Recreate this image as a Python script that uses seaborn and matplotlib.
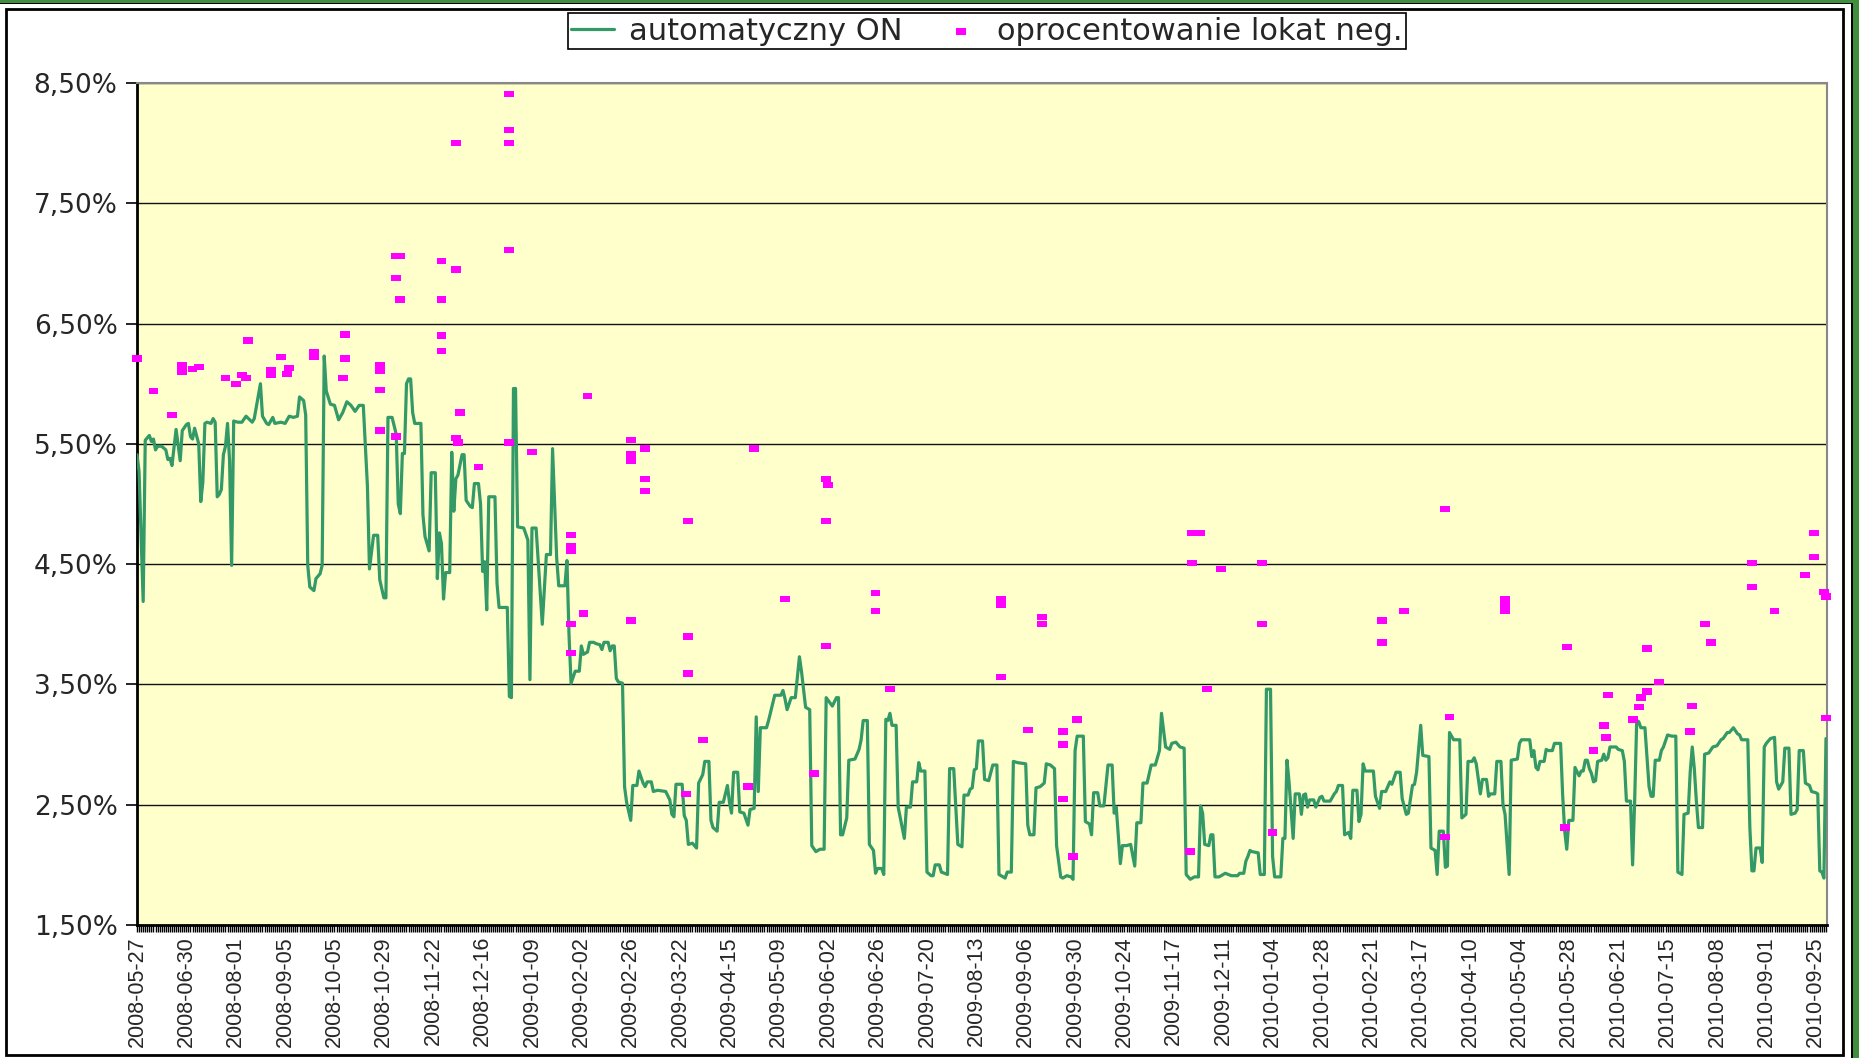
import numpy as np
import pandas as pd
import matplotlib
matplotlib.use("Agg")
import matplotlib.pyplot as plt
import seaborn as sns
from matplotlib.path import Path
from matplotlib.patches import Rectangle
from matplotlib.ticker import FuncFormatter

# Etykiety osi X (co 24 notowania)
date_labels = [
    "2008-05-27", "2008-06-30", "2008-08-01", "2008-09-05", "2008-10-05",
    "2008-10-29", "2008-11-22", "2008-12-16", "2009-01-09", "2009-02-02",
    "2009-02-26", "2009-03-22", "2009-04-15", "2009-05-09", "2009-06-02",
    "2009-06-26", "2009-07-20", "2009-08-13", "2009-09-06", "2009-09-30",
    "2009-10-24", "2009-11-17", "2009-12-11", "2010-01-04", "2010-01-28",
    "2010-02-21", "2010-03-17", "2010-04-10", "2010-05-04", "2010-05-28",
    "2010-06-21", "2010-07-15", "2010-08-08", "2010-09-01", "2010-09-25",
]
n_points = 822

# automatyczny ON: (nr notowania, %)
on_part1 = [
    (0, 5.41), (1, 5.27), (3, 4.19), (4, 5.53), (6, 5.57), (7, 5.52), (8, 5.54), (9, 5.45),
    (10, 5.48), (12, 5.48), (14, 5.45), (15, 5.37), (16, 5.38), (17, 5.32), (19, 5.62),
    (21, 5.36), (22, 5.61), (24, 5.66), (25, 5.67), (26, 5.56), (27, 5.54), (28, 5.63),
    (30, 5.50), (31, 5.02), (32, 5.18), (33, 5.67), (34, 5.68), (36, 5.67), (37, 5.71),
    (38, 5.68), (39, 5.06), (40, 5.08), (41, 5.12), (42, 5.41), (43, 5.48), (44, 5.67),
    (45, 5.36), (46, 4.49), (47, 5.69), (49, 5.68), (51, 5.68), (53, 5.73), (56, 5.68),
    (57, 5.71), (60, 6.00), (61, 5.73), (63, 5.67), (64, 5.66), (66, 5.72), (67, 5.67),
    (70, 5.68), (72, 5.67), (74, 5.73), (76, 5.72), (78, 5.73), (79, 5.89), (81, 5.86),
    (82, 5.74), (83, 4.49), (84, 4.31), (86, 4.28), (87, 4.38), (89, 4.42), (90, 4.49),
    (91, 6.23), (92, 5.94), (94, 5.83), (96, 5.82), (98, 5.70), (100, 5.76), (102, 5.85),
    (104, 5.82), (106, 5.77), (108, 5.82), (110, 5.82), (112, 5.15),
]
on_part2 = [
    (113, 4.46), (115, 4.74), (117, 4.74), (118, 4.37), (120, 4.22), (121, 4.22), (122, 5.72),
    (124, 5.72), (126, 5.58), (127, 5.00), (128, 4.92), (129, 5.42), (130, 5.42), (131, 6.00),
    (132, 6.04), (133, 6.04), (134, 5.76), (135, 5.67), (138, 5.67), (139, 4.91), (140, 4.73),
    (142, 4.61), (143, 5.26), (145, 5.26), (146, 4.38), (147, 4.76), (148, 4.67), (149, 4.21),
    (150, 4.43), (152, 4.43), (153, 5.43), (154, 4.94), (155, 5.21), (156, 5.24), (158, 5.41),
    (159, 5.41), (160, 5.03), (162, 4.98), (163, 4.97), (164, 5.17), (166, 5.17), (167, 5.00),
    (168, 4.44), (169, 4.52), (170, 4.12), (171, 5.06), (174, 5.06), (175, 4.34), (176, 4.14),
    (180, 4.14), (181, 3.40), (182, 3.39), (183, 5.96), (184, 5.96), (185, 4.81), (188, 4.80),
    (190, 4.70), (191, 3.54), (192, 4.80), (194, 4.80), (197, 4.00), (199, 4.58), (201, 4.58),
    (202, 5.46), (204, 4.55), (205, 4.32), (208, 4.32), (209, 4.53), (210, 3.91), (211, 3.51),
    (213, 3.61), (215, 3.61), (216, 3.82), (217, 3.75), (219, 3.77), (220, 3.85), (222, 3.85),
    (223, 3.84), (225, 3.83), (226, 3.79), (227, 3.85), (229, 3.85), (230, 3.78), (231, 3.82),
    (232, 3.82), (233, 3.55), (234, 3.52), (236, 3.51),
]
on_part3 = [
    (237, 2.65), (238, 2.52), (240, 2.37), (241, 2.66), (243, 2.66), (244, 2.78), (246, 2.68),
    (247, 2.65), (248, 2.69), (250, 2.69), (251, 2.61), (253, 2.62), (257, 2.61), (259, 2.54),
    (260, 2.42), (261, 2.40), (262, 2.67), (265, 2.67), (266, 2.41), (267, 2.37), (268, 2.17),
    (270, 2.18), (272, 2.14), (273, 2.68), (275, 2.75), (276, 2.86), (278, 2.86), (279, 2.37),
    (280, 2.31), (282, 2.28), (283, 2.52), (285, 2.52), (287, 2.66), (288, 2.52), (289, 2.43),
    (290, 2.77), (292, 2.77), (293, 2.44), (295, 2.43), (297, 2.33), (298, 2.46), (300, 2.47),
    (301, 3.23), (302, 2.61), (303, 3.14), (306, 3.14), (307, 3.20), (309, 3.34), (310, 3.41),
    (313, 3.41), (314, 3.45), (315, 3.38), (316, 3.29), (318, 3.39), (320, 3.39), (322, 3.73),
    (323, 3.61), (325, 3.31), (327, 3.29), (328, 2.16), (330, 2.11), (332, 2.13), (334, 2.13),
    (335, 3.39), (338, 3.32), (340, 3.39), (341, 3.39), (342, 2.25), (343, 2.25), (345, 2.39),
    (346, 2.87),
]
on_part4 = [
    (349, 2.88), (351, 2.96), (352, 3.04), (353, 3.20), (355, 3.20), (356, 2.17), (358, 2.12),
    (359, 1.93), (360, 1.97), (362, 1.97), (363, 1.92), (364, 3.21), (365, 3.20), (366, 3.26),
    (367, 3.16), (369, 3.16), (370, 2.48), (373, 2.22), (374, 2.48), (376, 2.48), (377, 2.69),
    (379, 2.69), (380, 2.85), (381, 2.78), (383, 2.78), (384, 1.94), (386, 1.91), (387, 1.91),
    (388, 2.00), (390, 2.00), (391, 1.94), (394, 1.92), (395, 2.80), (397, 2.80), (399, 2.17),
    (401, 2.15), (402, 2.58), (404, 2.58), (405, 2.63), (406, 2.64), (407, 2.79), (408, 2.80),
    (409, 3.03), (411, 3.03), (412, 2.71), (414, 2.70), (416, 2.83), (418, 2.83), (419, 1.92),
    (422, 1.89), (423, 1.94), (425, 1.94), (426, 2.86), (428, 2.85), (432, 2.84), (433, 2.33),
    (434, 2.25), (436, 2.25), (437, 2.64), (439, 2.65), (441, 2.68), (442, 2.84), (444, 2.83),
    (446, 2.80), (447, 2.16), (449, 1.90), (450, 1.89), (452, 1.91), (454, 1.90), (455, 1.88),
    (456, 2.95), (457, 3.07), (460, 3.07), (461, 2.36), (463, 2.34),
]
on_part5 = [
    (464, 2.25), (465, 2.60), (467, 2.60), (468, 2.49), (470, 2.49), (472, 2.83), (474, 2.83),
    (475, 2.43), (476, 2.48), (477, 2.25), (478, 2.01), (479, 2.16), (481, 2.16), (483, 2.17),
    (485, 1.99), (486, 2.35), (488, 2.35), (489, 2.68), (491, 2.68), (493, 2.83), (495, 2.83),
    (497, 2.95), (498, 3.26), (500, 2.98), (502, 2.96), (503, 3.01), (505, 3.02), (507, 2.98),
    (509, 2.97), (510, 1.92), (512, 1.88), (514, 1.90), (516, 1.90), (517, 2.49), (518, 2.43),
    (519, 2.17), (521, 2.16), (522, 2.25), (523, 2.25), (524, 1.90), (526, 1.90), (529, 1.93),
    (532, 1.91), (535, 1.91), (536, 1.93), (538, 1.93), (539, 2.03), (540, 2.07), (541, 2.12),
    (542, 2.11), (545, 2.10), (546, 1.92), (548, 1.92), (549, 3.46), (551, 3.46), (552, 2.07),
    (553, 1.90), (556, 1.90), (557, 2.22), (558, 2.22), (559, 2.87), (560, 2.69), (562, 2.22),
    (563, 2.59), (565, 2.59), (566, 2.42), (567, 2.58), (568, 2.59), (569, 2.48), (570, 2.54),
    (572, 2.54), (573, 2.48), (575, 2.56), (576, 2.57), (577, 2.53), (580, 2.53),
]
on_part6 = [
    (582, 2.59), (583, 2.61), (584, 2.66), (586, 2.66), (587, 2.25), (589, 2.27), (590, 2.22),
    (591, 2.62), (593, 2.62), (594, 2.36), (595, 2.42), (596, 2.84), (597, 2.78), (601, 2.78),
    (602, 2.57), (604, 2.47), (605, 2.61), (607, 2.61), (609, 2.69), (610, 2.67), (612, 2.77),
    (614, 2.77), (615, 2.55), (617, 2.42), (618, 2.43), (620, 2.66), (621, 2.67), (622, 2.77),
    (624, 3.16), (625, 2.91), (628, 2.90), (629, 2.14), (631, 2.12), (632, 1.92), (633, 2.28),
    (635, 2.28), (636, 1.98), (637, 1.99), (638, 3.10), (640, 3.04), (643, 3.04), (644, 2.39),
    (646, 2.42), (647, 2.86), (649, 2.86), (650, 2.89), (651, 2.84), (653, 2.59), (654, 2.71),
    (656, 2.71), (657, 2.57), (658, 2.59), (660, 2.59), (661, 2.86), (663, 2.86), (664, 2.50),
    (665, 2.42), (667, 1.92), (668, 2.87), (671, 2.88), (672, 3.01), (673, 3.04), (677, 3.04),
    (678, 2.90), (679, 2.95), (680, 2.81), (681, 2.79), (682, 2.86), (684, 2.86), (685, 2.96),
    (686, 2.95), (688, 2.95), (689, 3.01), (692, 3.01), (693, 2.58), (694, 2.28), (695, 2.13),
    (696, 2.37),
]
on_part7 = [
    (698, 2.37), (699, 2.81), (701, 2.74), (702, 2.78), (703, 2.78), (704, 2.87), (705, 2.87),
    (706, 2.80), (707, 2.76), (708, 2.69), (709, 2.70), (710, 2.86), (712, 2.87), (713, 2.92),
    (714, 2.87), (715, 2.89), (716, 2.98), (719, 2.98), (720, 2.96), (722, 2.95), (723, 2.86),
    (724, 2.53), (726, 2.53), (727, 2.00), (728, 2.53), (729, 3.20), (730, 3.19), (731, 3.14),
    (733, 3.14), (734, 2.89), (735, 2.65), (736, 2.57), (737, 2.57), (738, 2.87), (740, 2.87),
    (741, 2.95), (742, 2.98), (744, 3.08), (746, 3.07), (748, 3.07), (749, 1.94), (751, 1.92),
    (752, 2.42), (754, 2.43), (755, 2.77), (756, 2.98), (757, 2.80), (758, 2.53), (759, 2.31),
    (761, 2.31), (762, 2.92), (764, 2.93), (766, 2.98), (768, 2.99), (770, 3.04), (771, 3.05),
    (773, 3.10), (774, 3.10), (776, 3.14), (778, 3.09), (779, 3.08), (780, 3.04), (783, 3.04),
    (784, 2.31), (785, 1.95), (786, 1.95), (787, 2.14), (789, 2.14), (790, 2.02), (791, 2.98),
    (792, 3.01), (794, 3.05), (796, 3.06), (797, 2.69), (798, 2.63), (800, 2.69), (801, 2.97),
    (803, 2.97), (804, 2.42), (806, 2.43), (807, 2.46), (808, 2.95), (810, 2.95), (811, 2.68),
    (813, 2.66), (814, 2.61), (816, 2.60), (817, 2.59), (818, 1.95), (819, 1.94), (820, 1.89),
    (821, 3.05),
]

# oprocentowanie lokat neg.: (nr notowania, %)
neg_2008 = [
    (0, 6.21), (8, 5.94), (17, 5.74), (22, 6.15), (22, 6.10), (27, 6.12), (30, 6.14),
    (43, 6.05), (48, 6.00), (51, 6.07), (53, 6.05), (54, 6.36), (65, 6.11), (65, 6.07),
    (70, 6.22), (73, 6.08), (74, 6.13), (86, 6.26), (86, 6.22), (100, 6.05), (101, 6.41),
    (101, 6.21), (118, 6.15), (118, 6.11), (118, 5.95), (118, 5.61), (126, 7.06), (128, 7.06),
    (126, 6.88), (128, 6.70), (126, 5.56), (148, 7.02), (148, 6.70), (148, 6.40), (148, 6.27),
    (155, 8.00), (155, 6.95), (155, 5.55), (156, 5.51), (157, 5.76), (166, 5.31),
    (181, 8.41), (181, 8.11), (181, 8.00), (181, 7.11), (181, 5.51),
]
neg_2009 = [
    (192, 5.43), (211, 4.74), (211, 4.65), (211, 4.61), (211, 4.00), (211, 3.76), (217, 4.09),
    (219, 5.90), (240, 5.53), (240, 5.41), (240, 5.36), (240, 4.03), (247, 5.46), (247, 5.21),
    (247, 5.11), (268, 4.86), (268, 3.90), (268, 3.59), (267, 2.59), (275, 3.04), (297, 2.65),
    (300, 5.46), (315, 4.21), (329, 2.76), (335, 5.21), (336, 5.16), (335, 4.86), (335, 3.82),
    (359, 4.26), (359, 4.11), (366, 3.46), (420, 4.21), (420, 4.16), (420, 3.56), (433, 3.12),
    (440, 4.06), (440, 4.00), (450, 3.11), (450, 3.00), (450, 2.55), (455, 2.07), (457, 3.21),
    (512, 2.11), (513, 4.76), (517, 4.76), (513, 4.51), (520, 3.46), (527, 4.46),
]
neg_2010 = [
    (547, 4.51), (547, 4.00), (552, 2.27), (605, 4.03), (605, 3.85), (616, 4.11), (636, 4.96),
    (638, 3.23), (636, 2.23), (665, 4.21), (665, 4.16), (665, 4.11), (694, 2.31), (695, 3.81),
    (708, 2.95), (713, 3.16), (714, 3.06), (715, 3.41), (727, 3.21), (730, 3.31), (731, 3.39),
    (734, 3.44), (734, 3.80), (740, 3.52), (756, 3.32), (755, 3.11), (762, 4.00), (765, 3.85),
    (785, 4.51), (785, 4.31), (796, 4.11), (811, 4.41), (815, 4.76), (815, 4.56), (820, 4.27),
    (821, 4.23), (821, 3.22),
]

W, H = 1859, 1058

on_df = pd.DataFrame(on_part1 + on_part2 + on_part3 + on_part4 + on_part5 + on_part6 + on_part7,
                     columns=["idx", "val"])
neg_df = pd.DataFrame(neg_2008 + neg_2009 + neg_2010, columns=["idx", "val"])

sns.set_style("white")
plt.rcParams["font.family"] = ["Liberation Sans", "DejaVu Sans"]

fig = plt.figure(figsize=(W / 100, H / 100), dpi=100)
fig.patch.set_facecolor("white")
ax = fig.add_axes([137 / W, 1 - 925 / H, (1827 - 137) / W, (925 - 83) / H])
ax.set_facecolor("#FFFFCC")

sns.lineplot(data=on_df, x="idx", y="val", ax=ax, color="#339966", linewidth=2.3,
             estimator=None, sort=False, label="automatyczny ON", zorder=3)

rect_marker = Path([(-1, -0.65), (1, -0.65), (1, 0.65), (-1, 0.65), (-1, -0.65)], closed=True)
sns.scatterplot(data=neg_df, x="idx", y="val", ax=ax, marker=rect_marker, s=50,
                color="#FF00FF", linewidth=0, edgecolor="none",
                label="oprocentowanie lokat neg.", zorder=4, clip_on=False)

if ax.get_legend() is not None:
    ax.get_legend().remove()

ax.set_xlim(0, n_points - 0.5)
ax.set_ylim(1.5, 8.5)
ax.set_xlabel("")
ax.set_ylabel("")

ax.set_yticks(np.arange(1.5, 8.51, 1.0))
ax.yaxis.set_major_formatter(FuncFormatter(lambda v, p: f"{v:.2f}%".replace(".", ",")))
ax.set_xticks(range(0, n_points, 24))
ax.set_xticklabels(date_labels, rotation=90)
ax.set_xticks(range(0, n_points), minor=True)

ax.tick_params(axis="x", which="both", bottom=True, direction="out", length=5, width=1,
               color="black")
ax.tick_params(axis="x", which="major", labelsize=15.5, pad=3)
ax.tick_params(axis="y", which="major", left=True, direction="out", length=8, width=1.2,
               color="black", labelsize=19, pad=6, labelfontfamily="DejaVu Sans")

ax.grid(axis="y", color="#111111", linewidth=1.0)
ax.grid(axis="x", visible=False)
ax.set_axisbelow(True)

for side in ["left", "bottom"]:
    ax.spines[side].set_color("black")
    ax.spines[side].set_linewidth(2)
for side in ["top", "right"]:
    ax.spines[side].set_color("#888888")
    ax.spines[side].set_linewidth(1.5)

handles, labels = ax.get_legend_handles_labels()
fig.legend(handles, labels, loc="center", bbox_to_anchor=(987 / W, 1 - 31 / H), ncol=2,
           frameon=True, fancybox=False, edgecolor="black", framealpha=1,
           prop={"family": "DejaVu Sans", "size": 22}, handlelength=1.4, columnspacing=1.2,
           borderpad=0.1, handletextpad=0.5, scatterpoints=1)
leg = fig.legends[0]
leg.get_frame().set_linewidth(1.2)

# ramka wykresu i zielony brzeg
fig.patches.append(Rectangle((6 / W, 1 - 1055 / H), (1843 - 6) / W, (1055 - 9) / H,
                             fill=False, edgecolor="black", linewidth=2,
                             transform=fig.transFigure, figure=fig))
fig.patches.append(Rectangle((1853 / W, 0), 6 / W, 1, facecolor="#3f8f3f", edgecolor="none",
                             transform=fig.transFigure, figure=fig))
fig.patches.append(Rectangle((0, 1 - 2.5 / H), 1, 2.5 / H, facecolor="#3f8f3f", edgecolor="none",
                             transform=fig.transFigure, figure=fig))
fig.patches.append(Rectangle((0, 1 - 4 / H), 1853 / W, 1.5 / H, facecolor="black", edgecolor="none",
                             transform=fig.transFigure, figure=fig))
fig.patches.append(Rectangle((1851 / W, 0), 2 / W, 1 - 2.5 / H, facecolor="black", edgecolor="none",
                             transform=fig.transFigure, figure=fig))

fig.savefig("out.png", dpi=100)
